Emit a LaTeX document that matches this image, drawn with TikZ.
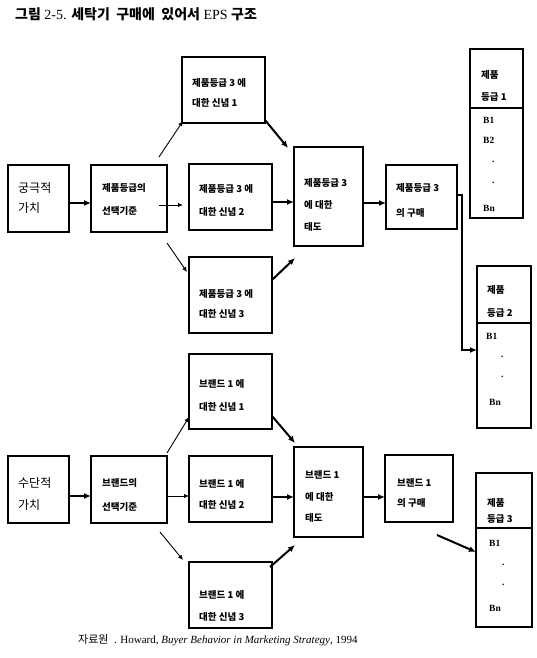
\documentclass[tikz,border=0pt]{standalone}
\usepackage{fontspec}
\setmainfont{Liberation Serif}
\newfontfamily\kr{Noto Sans CJK KR}
\usetikzlibrary{arrows.meta,calc}
\tikzset{
 box/.style={draw, line width=1.1pt, inner sep=0pt, outer sep=0pt},
 lbl/.style={font=\kr\bfseries\fontsize{9.5}{11}\selectfont, inner sep=0pt, anchor=west},
 big/.style={font=\kr\fontsize{12}{14}\selectfont, inner sep=0pt, anchor=west},
 lat/.style={font=\bfseries\fontsize{9.5}{11}\selectfont, inner sep=0pt, anchor=west},
 thk/.style={line width=2pt, -{Latex[length=7pt,width=6pt]}},
 thn/.style={line width=0.9pt, -{Latex[length=5pt,width=4.5pt]}},
}
\newcommand\bx[5]{\node[box, minimum width={#4-#2}, minimum height={#5-#3}] (#1) at ({(#2+#4)/2},{(#3+#5)/2}) {};}
\newcommand\tx[5][lbl]{\node[#1] (#2) at (#3,#4) {#5};}
\begin{document}
\begin{tikzpicture}[x=1pt,y=-1pt]
\fill[white] (0,0) rectangle (536,658);
\useasboundingbox (0,0) rectangle (536,658);

\node[anchor=west, inner sep=0pt, font=\fontsize{14}{16}\selectfont] (title) at (15,14) {{\kr\bfseries 그림} 2-5. {\kr\bfseries 세탁기\ \ 구매에\ \ 있어서} EPS {\kr\bfseries 구조}};

% ---------- top ----------
\bx{v1}{8}{165}{69}{232}
\tx[big]{v1a}{18}{188}{궁극적}
\tx[big]{v1b}{18}{208}{가치}
\bx{s1}{91}{165}{167}{232}
\tx{s1a}{102}{188}{제품등급의}
\tx{s1b}{102}{211}{선택기준}
\bx{b1}{182}{57}{265}{123}
\tx{b1a}{192}{83}{제품등급 3 에}
\tx{b1b}{192}{103}{대한 신념 1}
\bx{b2}{189}{164}{272}{230}
\tx{b2a}{199}{189}{제품등급 3 에}
\tx{b2b}{199}{212}{대한 신념 2}
\bx{b3}{189}{257}{272}{333}
\tx{b3a}{199}{294}{제품등급 3 에}
\tx{b3b}{199}{314}{대한 신념 3}
\bx{a1}{294}{147}{363}{246}
\tx{a1a}{304}{183}{제품등급 3}
\tx{a1b}{304}{205}{에 대한}
\tx{a1c}{304}{227}{태도}
\bx{p1}{386}{165}{457}{229}
\tx{p1a}{396}{188}{제품등급 3}
\tx{p1b}{396}{213}{의 구매}

\bx{g1t}{470}{49}{523}{108}
\bx{g1b}{470}{108}{523}{218}
\tx{g1a}{481}{75}{제품}
\tx{g1c}{481}{97}{등급 1}
\tx[lat]{g1d}{483}{120}{B1}
\tx[lat]{g1e}{483}{140}{B2}
\tx[lat]{g1f}{492}{162}{.}
\tx[lat]{g1g}{492}{183}{.}
\tx[lat]{g1h}{483}{208}{Bn}

\bx{g2t}{477}{266}{531}{323}
\bx{g2b}{477}{323}{531}{428}
\tx{g2a}{487}{290}{제품}
\tx{g2c}{487}{313}{등급 2}
\tx[lat]{g2d}{486}{336}{B1}
\tx[lat]{g2f}{501}{357}{.}
\tx[lat]{g2g}{501}{377}{.}
\tx[lat]{g2h}{489}{402}{Bn}

% ---------- bottom ----------
\bx{v2}{8}{456}{69}{523}
\tx[big]{v2a}{18}{483}{수단적}
\tx[big]{v2b}{18}{505}{가치}
\bx{s2}{91}{456}{167}{523}
\tx{s2a}{102}{483}{브랜드의}
\tx{s2b}{102}{507}{선택기준}
\bx{c1}{189}{354}{272}{429}
\tx{c1a}{199}{384}{브랜드 1 에}
\tx{c1b}{199}{407}{대한 신념 1}
\bx{c2}{189}{456}{272}{522}
\tx{c2a}{199}{484}{브랜드 1 에}
\tx{c2b}{199}{505}{대한 신념 2}
\bx{c3}{189}{562}{272}{628}
\tx{c3a}{199}{595}{브랜드 1 에}
\tx{c3b}{199}{617}{대한 신념 3}
\bx{a2}{294}{447}{363}{537}
\tx{a2a}{305}{475}{브랜드 1}
\tx{a2b}{305}{497}{에 대한}
\tx{a2c}{305}{518}{태도}
\bx{p2}{385}{455}{453}{522}
\tx{p2a}{397}{483}{브랜드 1}
\tx{p2b}{397}{503}{의 구매}

\bx{g3t}{476}{473}{532}{528}
\bx{g3b}{476}{528}{532}{627}
\tx{g3a}{487}{503}{제품}
\tx{g3c}{487}{519}{등급 3}
\tx[lat]{g3d}{489}{543}{B1}
\tx[lat]{g3f}{502}{565}{.}
\tx[lat]{g3g}{502}{585}{.}
\tx[lat]{g3h}{489}{608}{Bn}

\node[anchor=west, inner sep=0pt, font=\fontsize{11}{13}\selectfont] (cap) at (78,640) {{\kr 자료원}\ \ . Howard, \textit{Buyer Behavior in Marketing Strategy}, 1994};

% ---------- arrows top ----------
\draw[thk] ($(v1.east)+(0,4.5)$) -- ($(s1.west)+(0,4.5)$);
\draw[thn] ($(s1.north east)+(-8,-8)$) -- ($(b1.south west)+(1,-2)$);
\draw[thn] ($(s1.east)+(-8,6.5)$) -- ($(b2.west)+(-6,8)$);
\draw[thn] ($(s1.south east)+(0,11)$) -- ($(b3.north west)+(-2,15)$);
\draw[thk] ($(b1.south east)+(0,-3)$) -- ($(a1.north west)+(-6,1)$);
\draw[thk] ($(b2.east)+(0,5)$) -- ($(a1.west)+(0,5.5)$);
\draw[thk] ($(b3.east)+(0,-15)$) -- ($(a1.south west)+(1,12)$);
\draw[thk] ($(a1.east)+(0,6.5)$) -- ($(p1.west)+(0,6)$);
\draw[thk] ($(p1.east)+(0,-2)$) -- ++(5,0) |- ($(g2b.north west)+(0,27)$);

% ---------- arrows bottom ----------
\draw[thk] ($(v2.east)+(0,6.5)$) -- ($(s2.west)+(0,6.5)$);
\draw[thn] ($(s2.north east)+(0,-3)$) -- ($(c1.south west)+(0,-12)$);
\draw[thn] ($(s2.east)+(0,6.5)$) -- ($(c2.west)+(0,7)$);
\draw[thn] ($(s2.south east)+(-7,9)$) -- ($(c3.north west)+(-6,-2)$);
\draw[thk] ($(c1.south east)+(0,-13)$) -- ($(a2.north west)+(1,-4)$);
\draw[thk] ($(c2.east)+(0,8)$) -- ($(a2.west)+(0,5)$);
\draw[thk] ($(c3.north east)+(-2,5)$) -- ($(a2.south west)+(1,8)$);
\draw[thk] ($(a2.east)+(0,5)$) -- ($(p2.west)+(0,8.5)$);
\coordinate (q3) at ($(p2.south east)+(-16,13)$);
\draw[thk] (q3) -- ($(g3b.north west)+(0,24)$);
\end{tikzpicture}
\end{document}
